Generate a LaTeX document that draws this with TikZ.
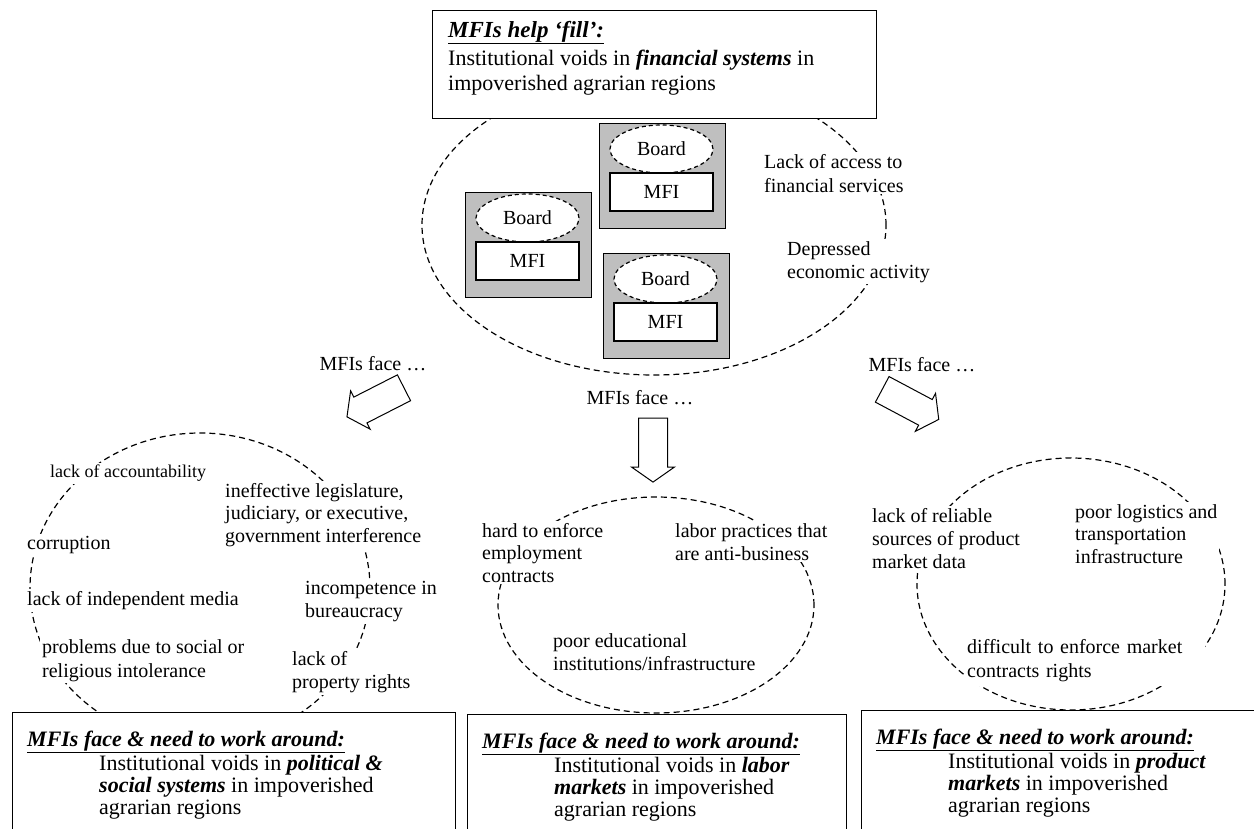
\documentclass[tikz,border=0pt]{standalone}
\usepackage{fontspec}
\setmainfont{Liberation Serif}
\usetikzlibrary{shapes.geometric,shapes.arrows,positioning,calc}

\newcommand{\hdr}[1]{\underline{\textbf{\textit{#1}}}}
\newcommand{\bi}[1]{\textbf{\textit{#1}}}

\begin{document}
\begin{tikzpicture}[x=1pt,y=-1pt,
  void/.style={ellipse, draw, dash pattern=on 6pt off 4pt, line width=1.2pt, inner sep=0pt},
  lbl/.style={fill=white, inner sep=2pt, align=left, anchor=north west, font=\fontsize{20}{23}\selectfont},
  face/.style={inner sep=1pt, anchor=base, font=\fontsize{20}{23}\selectfont},
  fatarrow/.style={single arrow, draw, fill=white, line width=1pt, inner xsep=0pt, inner ysep=14pt, single arrow head extend=7pt, single arrow tip angle=110, minimum height=64pt},
  gbox/.style={draw, fill=black!25, line width=1pt, minimum width=126pt, minimum height=105pt, anchor=north west, inner sep=0pt},
  board/.style={ellipse, draw, fill=white, dash pattern=on 4pt off 3pt, line width=1.2pt, minimum width=103pt, minimum height=48pt, inner sep=0pt, font=\fontsize{20}{23}\selectfont},
  mfibox/.style={draw, fill=white, line width=1.3pt, minimum width=103pt, minimum height=38pt, inner sep=0pt, font=\fontsize{20}{23}\selectfont},
  voidbox/.style={draw, fill=white, line width=1.4pt, anchor=north west, inner sep=0pt},
  ttl/.style={inner sep=0pt, anchor=base west, font=\fontsize{22}{22}\selectfont},
  body/.style={inner sep=0pt, align=left, anchor=north west, font=\fontsize{22}{22}\selectfont}]
\useasboundingbox (0,0) rectangle (1254,828);
\clip (0,0) rectangle (1254,828);

% dashed rings of voids
\node[void, minimum width=464pt, minimum height=300pt] (finring) at (654,225) {};
\node[void, minimum width=340pt, minimum height=310pt] (polring) at (200,588) {};
\node[void, minimum width=316pt, minimum height=216pt] (labring) at (656,605) {};
\node[void, minimum width=308pt, minimum height=252pt] (prodring) at (1071,584) {};

% top box
\node[voidbox, minimum width=444pt, minimum height=108pt] (topbox) at (432,10) {};
\node[ttl, font=\fontsize{23}{23}\selectfont] (toptitle) at (448,37) {\hdr{MFIs help ‘fill’:}};
\node[body, font=\fontsize{22}{25}\selectfont] (toptext) at (448,50)
  {Institutional voids in \bi{financial systems} in\\impoverished agrarian regions};

% MFIs with their boards
\foreach \gx/\gy/\gn in {465/192/1, 599/123/2, 603/253/3}{
  \node[gbox] (grp\gn) at (\gx,\gy) {};
  \node[board] (board\gn) at ({\gx+62.5},{\gy+26}) {Board};
  \node[mfibox] (mfi\gn) at ({\gx+62.5},{\gy+69}) {MFI};
}
\node[lbl, font=\fontsize{20}{24}\selectfont] (access) at (762,152) {Lack of access to\\financial services};
\node[lbl] (depressed) at (785,239) {Depressed\\economic activity};

% MFIs face ...
\node[face] (faceL) at (373,370) {MFIs face …};
\node[face] (faceM) at (640,404) {MFIs face …};
\node[face] (faceR) at (922,371) {MFIs face …};
\node[fatarrow, rotate=207] (arrL) at (380,400) {};
\node[fatarrow, rotate=-90] (arrM) at (653,445) {};
\node[fatarrow, rotate=-28] (arrR) at (906,402) {};

% political & social
\node[lbl, font=\fontsize{18}{21}\selectfont] (account) at (48,463) {lack of accountability};
\node[lbl, font=\fontsize{20}{22.5}\selectfont] (legis) at (223,481) {ineffective legislature,\\judiciary, or executive,\\government interference};
\node[lbl] (corrupt) at (25,534) {corruption};
\node[lbl] (media) at (25,589) {lack of independent media};
\node[lbl] (bureau) at (303,579) {incompetence in\\bureaucracy};
\node[lbl, font=\fontsize{20}{24}\selectfont] (intol) at (40,637) {problems due to social or\\religious intolerance};
\node[lbl] (property) at (290,649) {lack of\\property rights};

% labor
\node[lbl, font=\fontsize{20}{22.5}\selectfont] (employ) at (480,521) {hard to enforce\\employment\\contracts};
\node[lbl] (practice) at (673,521) {labor practices that\\are anti-business};
\node[lbl] (educ) at (551,631) {poor educational\\institutions/infrastructure};

% product
\node[lbl] (reliable) at (870,506) {lack of reliable\\sources of product\\market data};
\node[lbl, font=\fontsize{20}{22.5}\selectfont] (logist) at (1073,502) {poor logistics and\\transportation\\infrastructure};
\node[lbl, font=\fontsize{20}{24}\selectfont, text width=236pt, inner ysep=4pt] (enforce) at (965,635) {difficult to enforce market\\contracts rights};

% bottom boxes
\node[voidbox, minimum width=443pt, minimum height=150pt] (voidL) at (12,712) {};
\node[ttl] (ttlL) at (27,746) {\hdr{MFIs face \& need to work around:}};
\node[body] (txtL) at (99,755) {Institutional voids in \bi{political \&}\\\bi{social systems} in impoverished\\agrarian regions};

\node[voidbox, minimum width=379pt, minimum height=150pt] (voidM) at (467,714) {};
\node[ttl] (ttlM) at (482,748) {\hdr{MFIs face \& need to work around:}};
\node[body] (txtM) at (554,757) {Institutional voids in \bi{labor}\\\bi{markets} in impoverished\\agrarian regions};

\node[voidbox, minimum width=400pt, minimum height=150pt] (voidR) at (861,710) {};
\node[ttl] (ttlR) at (876,744) {\hdr{MFIs face \& need to work around:}};
\node[body] (txtR) at (948,753) {Institutional voids in \bi{product}\\\bi{markets} in impoverished\\agrarian regions};
\end{tikzpicture}
\end{document}
